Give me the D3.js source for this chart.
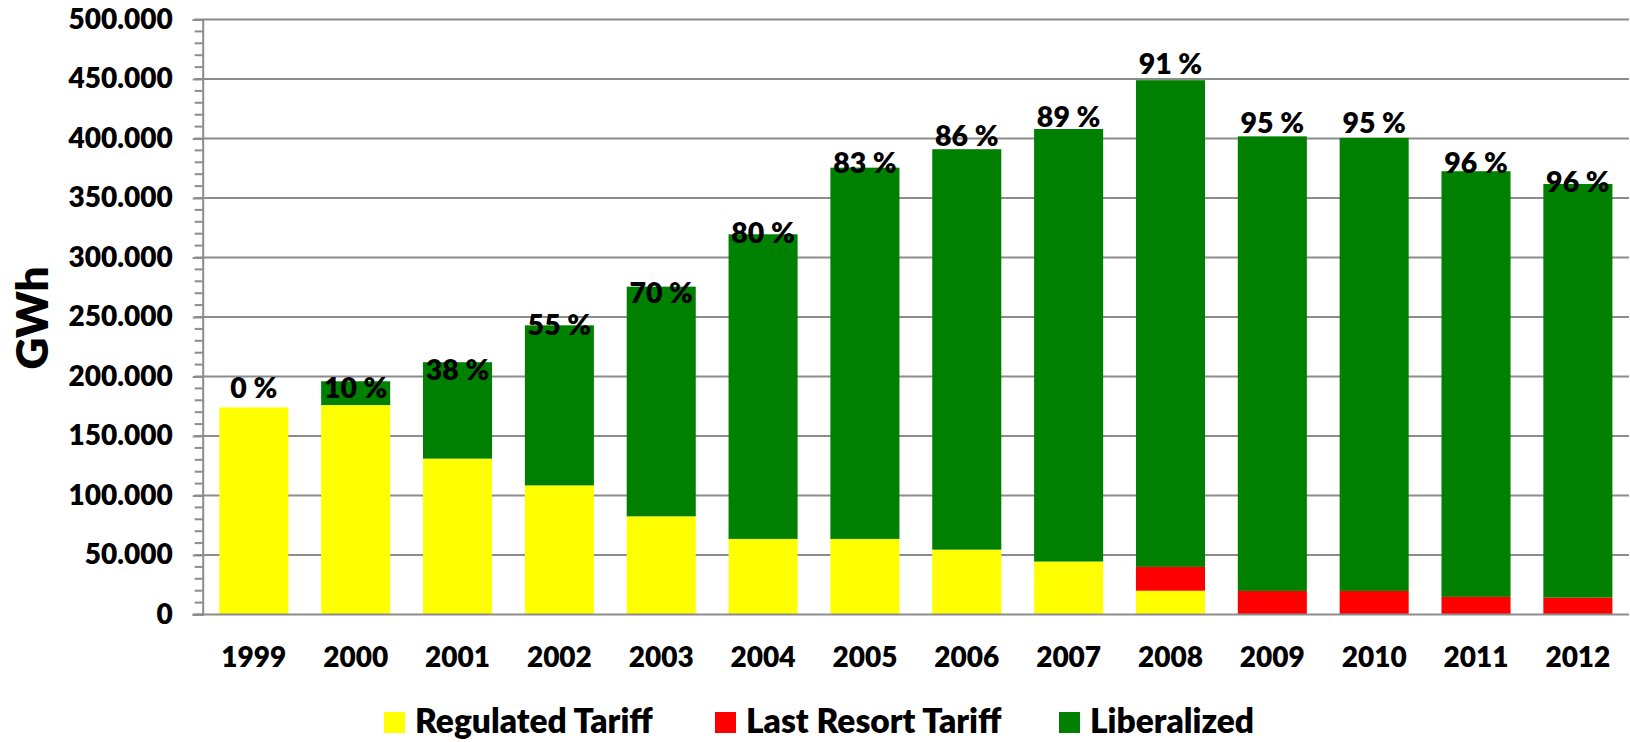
<!DOCTYPE html>
<html>
<head>
<meta charset="utf-8">
<script src="https://cdn.jsdelivr.net/npm/d3@7"></script>
<style>
  body { margin: 0; background: #fff; }
  #chart text { font-family: Lato, 'Open Sans', sans-serif; font-weight: 800; fill: #000; }
</style>
</head>
<body>
<div id="chart"></div>
<script>
const years = ['1999', '2000', '2001', '2002', '2003', '2004', '2005', '2006', '2007', '2008', '2009', '2010', '2011', '2012'];
const regulated = [174000, 176000, 131000, 108500, 82500, 63500, 63500, 54500, 44500, 20000, 0, 0, 0, 0];
const lastResort = [0, 0, 0, 0, 0, 0, 0, 0, 0, 20000, 19800, 19800, 14800, 14200];
const liberalized = [0, 20000, 81000, 134500, 193000, 256000, 312000, 336500, 363500, 409000, 382000, 380700, 357700, 347600];
const shareLabels = ['0 %', '10 %', '38 %', '55 %', '70 %', '80 %', '83 %', '86 %', '89 %', '91 %', '95 %', '95 %', '96 %', '96 %'];
// GWh level the share label sits on
const shareLevels = [182000, 182000, 197000, 235000, 262000, 312000, 370700, 393700, 409400, 453900, 404900, 404900, 370700, 355300];
const yTicks = [0, 50000, 100000, 150000, 200000, 250000, 300000, 350000, 400000, 450000, 500000];

const seriesKeys = ['regulated', 'lastResort', 'liberalized'];
const seriesNames = { regulated: 'Regulated Tariff', lastResort: 'Last Resort Tariff', liberalized: 'Liberalized' };
const colors = { regulated: '#ffff00', lastResort: '#ff0000', liberalized: '#008000' };

const width = 1630;
const height = 742;
const margin = { top: 19.5, right: 1, bottom: 127.5, left: 202.7 };
const innerW = width - margin.left - margin.right;
const innerH = height - margin.top - margin.bottom;

const rows = years.map((year, i) => ({
  year,
  regulated: regulated[i],
  lastResort: lastResort[i],
  liberalized: liberalized[i],
  label: shareLabels[i],
  level: shareLevels[i]
}));

const svg = d3.select('#chart').append('svg')
  .attr('width', width)
  .attr('height', height);

const g = svg.append('g')
  .attr('transform', `translate(${margin.left},${margin.top})`);

const x = d3.scaleBand()
  .domain(years)
  .range([0, innerW])
  .paddingInner(0.322)
  .paddingOuter(0.163);

const y = d3.scaleLinear()
  .domain([0, 500000])
  .range([innerH, 0]);

const fmt = v => v === 0 ? '0' : d3.format(',')(v).replace(/,/g, '.');

// gridlines
g.append('g')
  .selectAll('line')
  .data(yTicks.filter(d => d > 0))
  .join('line')
  .attr('x1', 0)
  .attr('x2', innerW)
  .attr('y1', d => y(d))
  .attr('y2', d => y(d))
  .attr('stroke', '#8c8c8c')
  .attr('stroke-width', 2);

// minor ticks every 10.000
g.append('g')
  .selectAll('line')
  .data(d3.range(0, 500001, 10000))
  .join('line')
  .attr('x1', -8)
  .attr('x2', 0)
  .attr('y1', d => y(d))
  .attr('y2', d => y(d))
  .attr('stroke', '#8c8c8c')
  .attr('stroke-width', 2);

// stacked bars
const stacked = d3.stack().keys(seriesKeys)(rows);

g.append('g')
  .selectAll('g')
  .data(stacked)
  .join('g')
  .attr('fill', d => colors[d.key])
  .selectAll('rect')
  .data(d => d.filter(p => p[1] > p[0]))
  .join('rect')
  .attr('x', d => x(d.data.year))
  .attr('width', x.bandwidth())
  .attr('y', d => y(d[1]))
  .attr('height', d => y(d[0]) - y(d[1]));

// y axis
const yAxis = g.append('g')
  .call(d3.axisLeft(y).tickValues(yTicks).tickFormat(fmt).tickSize(10).tickPadding(20));
yAxis.select('.domain').attr('stroke', '#8c8c8c').attr('stroke-width', 2);
yAxis.selectAll('.tick line').attr('stroke', '#8c8c8c').attr('stroke-width', 2);
yAxis.selectAll('.tick text').style('font-size', '28px');

// x axis
const xAxis = g.append('g')
  .attr('transform', `translate(0,${innerH})`)
  .call(d3.axisBottom(x).tickSize(0).tickPadding(33).tickSizeOuter(0));
xAxis.select('.domain')
  .attr('d', `M-10,0H${innerW}`)
  .attr('stroke', '#8c8c8c')
  .attr('stroke-width', 2);
xAxis.selectAll('.tick text').style('font-size', '28px');

// share labels
g.append('g')
  .selectAll('text')
  .data(rows)
  .join('text')
  .attr('x', d => x(d.year) + x.bandwidth() / 2)
  .attr('y', d => y(d.level))
  .attr('text-anchor', 'middle')
  .style('font-size', '28.5px')
  .text(d => d.label);

// axis title
svg.append('text')
  .attr('transform', 'translate(48,318) rotate(-90)')
  .attr('text-anchor', 'middle')
  .style('font-size', '44px')
  .text('GWh');

// legend
const legendX = [384, 715, 1059];
const legend = svg.append('g')
  .selectAll('g')
  .data(seriesKeys)
  .join('g')
  .attr('transform', (d, i) => `translate(${legendX[i]},712)`);

legend.append('rect')
  .attr('width', 21)
  .attr('height', 21)
  .attr('fill', d => colors[d]);

legend.append('text')
  .attr('x', 31)
  .attr('y', 21)
  .style('font-size', '33.5px')
  .text(d => seriesNames[d]);
</script>
</body>
</html>
